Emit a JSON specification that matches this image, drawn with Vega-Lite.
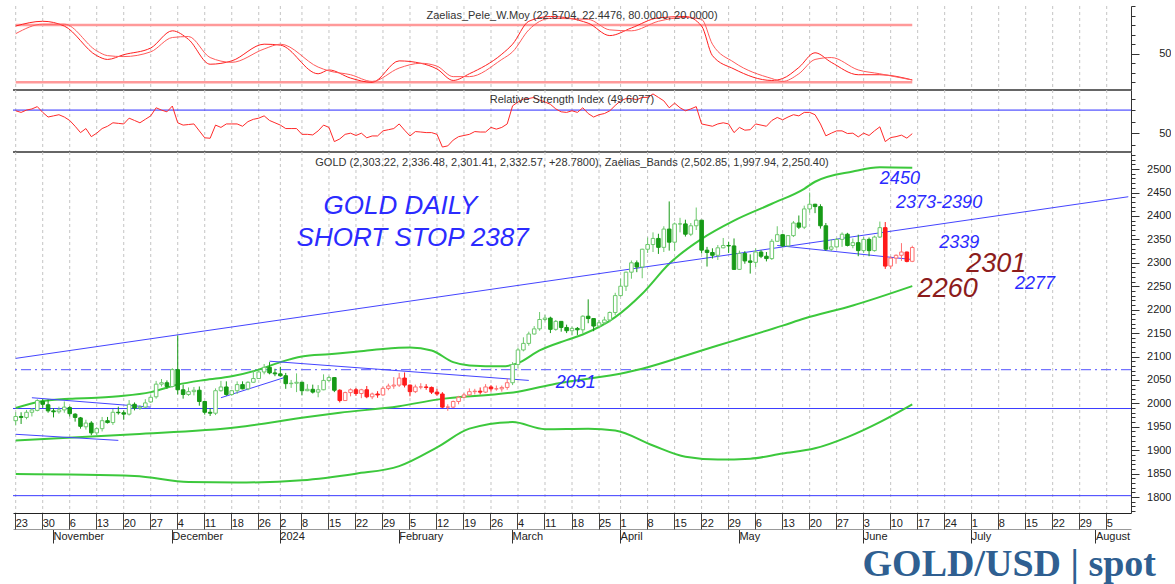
{
"$schema": "https://vega.github.io/schema/vega-lite/v6.json",
"padding": {"left": 10, "top": 5, "right": 0, "bottom": 0},
"background": "white",
"config": {"view": {"stroke": null}, "font": "Liberation Sans"},
"title": {"text": "GOLD/USD | spot", "orient": "bottom", "anchor": "end", "font": "Liberation Serif", "fontSize": 38, "fontWeight": "bold", "color": "#2f5f91", "offset": 2, "dx": -15},
"spacing": 0,
"bounds": "flush",
"datasets": {
"weeks": [{"d":"2023-10-23"},{"d":"2023-10-30"},{"d":"2023-11-06"},{"d":"2023-11-13"},{"d":"2023-11-20"},{"d":"2023-11-27"},{"d":"2023-12-04"},{"d":"2023-12-11"},{"d":"2023-12-18"},{"d":"2023-12-26"},{"d":"2024-01-02"},{"d":"2024-01-08"},{"d":"2024-01-15"},{"d":"2024-01-22"},{"d":"2024-01-29"},{"d":"2024-02-05"},{"d":"2024-02-12"},{"d":"2024-02-19"},{"d":"2024-02-26"},{"d":"2024-03-04"},{"d":"2024-03-11"},{"d":"2024-03-18"},{"d":"2024-03-25"},{"d":"2024-04-01"},{"d":"2024-04-08"},{"d":"2024-04-15"},{"d":"2024-04-22"},{"d":"2024-04-29"},{"d":"2024-05-06"},{"d":"2024-05-13"},{"d":"2024-05-20"},{"d":"2024-05-27"},{"d":"2024-06-03"},{"d":"2024-06-10"},{"d":"2024-06-17"},{"d":"2024-06-24"},{"d":"2024-07-01"},{"d":"2024-07-08"},{"d":"2024-07-15"},{"d":"2024-07-22"},{"d":"2024-07-29"},{"d":"2024-08-05"}]
},
"vconcat": [
{
"width": 1118, "height": 84,
"resolve": {"axis": {"y": "independent"}},
"layer": [
{"data": {"name": "weeks"},
 "mark": {"type": "rule", "color": "#c4c4c4", "strokeDash": [3, 3], "strokeWidth": 1},
 "encoding": {"x": {"field": "d", "type": "ordinal", "axis": null, "scale": {"type": "band", "paddingInner": 0, "paddingOuter": 0, "domain": ["2023-10-23","2023-10-24","2023-10-25","2023-10-26","2023-10-27","2023-10-30","2023-10-31","2023-11-01","2023-11-02","2023-11-03","2023-11-06","2023-11-07","2023-11-08","2023-11-09","2023-11-10","2023-11-13","2023-11-14","2023-11-15","2023-11-16","2023-11-17","2023-11-20","2023-11-21","2023-11-22","2023-11-23","2023-11-24","2023-11-27","2023-11-28","2023-11-29","2023-11-30","2023-12-01","2023-12-04","2023-12-05","2023-12-06","2023-12-07","2023-12-08","2023-12-11","2023-12-12","2023-12-13","2023-12-14","2023-12-15","2023-12-18","2023-12-19","2023-12-20","2023-12-21","2023-12-22","2023-12-26","2023-12-27","2023-12-28","2023-12-29","2024-01-02","2024-01-03","2024-01-04","2024-01-05","2024-01-08","2024-01-09","2024-01-10","2024-01-11","2024-01-12","2024-01-15","2024-01-16","2024-01-17","2024-01-18","2024-01-19","2024-01-22","2024-01-23","2024-01-24","2024-01-25","2024-01-26","2024-01-29","2024-01-30","2024-01-31","2024-02-01","2024-02-02","2024-02-05","2024-02-06","2024-02-07","2024-02-08","2024-02-09","2024-02-12","2024-02-13","2024-02-14","2024-02-15","2024-02-16","2024-02-19","2024-02-20","2024-02-21","2024-02-22","2024-02-23","2024-02-26","2024-02-27","2024-02-28","2024-02-29","2024-03-01","2024-03-04","2024-03-05","2024-03-06","2024-03-07","2024-03-08","2024-03-11","2024-03-12","2024-03-13","2024-03-14","2024-03-15","2024-03-18","2024-03-19","2024-03-20","2024-03-21","2024-03-22","2024-03-25","2024-03-26","2024-03-27","2024-03-28","2024-04-01","2024-04-02","2024-04-03","2024-04-04","2024-04-05","2024-04-08","2024-04-09","2024-04-10","2024-04-11","2024-04-12","2024-04-15","2024-04-16","2024-04-17","2024-04-18","2024-04-19","2024-04-22","2024-04-23","2024-04-24","2024-04-25","2024-04-26","2024-04-29","2024-04-30","2024-05-01","2024-05-02","2024-05-03","2024-05-06","2024-05-07","2024-05-08","2024-05-09","2024-05-10","2024-05-13","2024-05-14","2024-05-15","2024-05-16","2024-05-17","2024-05-20","2024-05-21","2024-05-22","2024-05-23","2024-05-24","2024-05-27","2024-05-28","2024-05-29","2024-05-30","2024-05-31","2024-06-03","2024-06-04","2024-06-05","2024-06-06","2024-06-07","2024-06-10","2024-06-11","2024-06-12","2024-06-13","2024-06-14","2024-06-17","2024-06-18","2024-06-19","2024-06-20","2024-06-21","2024-06-24","2024-06-25","2024-06-26","2024-06-27","2024-06-28","2024-07-01","2024-07-02","2024-07-03","2024-07-04","2024-07-05","2024-07-08","2024-07-09","2024-07-10","2024-07-11","2024-07-12","2024-07-15","2024-07-16","2024-07-17","2024-07-18","2024-07-19","2024-07-22","2024-07-23","2024-07-24","2024-07-25","2024-07-26","2024-07-29","2024-07-30","2024-07-31","2024-08-01","2024-08-02","2024-08-05","2024-08-06","2024-08-07","2024-08-08","2024-08-09"]}}}},
{"data": {"values": [{"v": 12}]},
 "mark": {"type": "rule", "color": "#333333", "strokeWidth": 1.5},
 "encoding": {"y": {"field": "v", "type": "quantitative", "axis": null}}},
{"data": {"values": [{"d":"2023-10-23","v":80,"g":"hi"},{"d":"2024-06-14","v":80,"g":"hi"},{"d":"2023-10-23","v":20,"g":"lo"},{"d":"2024-06-14","v":20,"g":"lo"}]},
 "mark": {"type": "line", "color": "#ff9a9a", "strokeWidth": 2.5},
 "encoding": {"x": {"field": "d", "type": "ordinal", "axis": null},
  "y": {"field": "v", "type": "quantitative", "scale": {"domain": [12, 100], "nice": false, "zero": false},
   "axis": {"orient": "right", "values": [50], "tickSize": 8, "tickColor": "#333", "domainColor": "#333", "labelFontSize": 11, "labelColor": "#222", "labelAlign": "right", "labelPadding": 32, "title": null, "grid": false}},
  "detail": {"field": "g"}}},
{"data": {"values": [
{"d":"2023-10-23","a":79,"b":71},{"d":"2023-10-30","a":84,"b":81},{"d":"2023-11-03","a":79,"b":81},{"d":"2023-11-13","a":48,"b":53},{"d":"2023-11-15","a":44,"b":48},{"d":"2023-11-20","a":49,"b":47},{"d":"2023-11-27","a":56,"b":52},{"d":"2023-12-01","a":74,"b":67},{"d":"2023-12-06","a":65,"b":68},{"d":"2023-12-12","a":39,"b":46},{"d":"2023-12-18","a":42.5,"b":41},{"d":"2023-12-27","a":60,"b":55},{"d":"2024-01-02","a":59,"b":60},{"d":"2024-01-11","a":29,"b":36},{"d":"2024-01-15","a":33,"b":32},{"d":"2024-01-19","a":24.5,"b":28},{"d":"2024-01-25","a":20,"b":21},{"d":"2024-02-01","a":42.5,"b":35},{"d":"2024-02-07","a":40,"b":40},{"d":"2024-02-12","a":34,"b":37},{"d":"2024-02-15","a":22,"b":26},{"d":"2024-02-20","a":29,"b":26},{"d":"2024-02-28","a":49.5,"b":44},{"d":"2024-03-01","a":60,"b":52},{"d":"2024-03-06","a":84,"b":75},{"d":"2024-03-12","a":89,"b":87},{"d":"2024-03-21","a":82,"b":86},{"d":"2024-03-27","a":69,"b":75},{"d":"2024-04-03","a":77,"b":74},{"d":"2024-04-10","a":87.6,"b":84},{"d":"2024-04-17","a":89,"b":88},{"d":"2024-04-22","a":79,"b":86},{"d":"2024-04-24","a":48,"b":60},{"d":"2024-04-30","a":34,"b":41},{"d":"2024-05-09","a":22,"b":24},{"d":"2024-05-13","a":24,"b":21},{"d":"2024-05-16","a":35.6,"b":29},{"d":"2024-05-21","a":51,"b":44},{"d":"2024-05-24","a":41,"b":46},{"d":"2024-05-31","a":28,"b":33},{"d":"2024-06-06","a":28,"b":29},{"d":"2024-06-14","a":22.57,"b":22.45}]},
 "layer": [
  {"mark": {"type": "line", "color": "#ff2020", "strokeWidth": 1, "interpolate": "monotone"},
   "encoding": {"x": {"field": "d", "type": "ordinal", "axis": null}, "y": {"field": "a", "type": "quantitative", "axis": null}}},
  {"mark": {"type": "line", "color": "#ff5a5a", "strokeWidth": 1, "interpolate": "monotone"},
   "encoding": {"x": {"field": "d", "type": "ordinal", "axis": null}, "y": {"field": "b", "type": "quantitative", "axis": null}}}
 ]},
{"data": {"values": [{"d":"2024-03-18","v":89.5,"t":"Zaelias_Pele_W.Moy (22.5704, 22.4476, 80.0000, 20.0000)"}]},
 "mark": {"type": "text", "fontSize": 11, "color": "#333", "font": "Liberation Sans"},
 "encoding": {"x": {"field": "d", "type": "ordinal", "axis": null},
  "y": {"field": "v", "type": "quantitative",
   "axis": {"orient": "right", "values": [20,30,40,60,70,80,90,100], "tickSize": 4, "tickColor": "#333", "labels": false, "domain": false, "title": null, "grid": false}}, "text": {"field": "t"}}}
]
},
{
"width": 1118, "height": 62,
"resolve": {"axis": {"y": "independent"}},
"layer": [
{"data": {"name": "weeks"},
 "mark": {"type": "rule", "color": "#c4c4c4", "strokeDash": [3, 3], "strokeWidth": 1},
 "encoding": {"x": {"field": "d", "type": "ordinal", "axis": null, "scale": {"type": "band", "paddingInner": 0, "paddingOuter": 0, "domain": ["2023-10-23","2023-10-24","2023-10-25","2023-10-26","2023-10-27","2023-10-30","2023-10-31","2023-11-01","2023-11-02","2023-11-03","2023-11-06","2023-11-07","2023-11-08","2023-11-09","2023-11-10","2023-11-13","2023-11-14","2023-11-15","2023-11-16","2023-11-17","2023-11-20","2023-11-21","2023-11-22","2023-11-23","2023-11-24","2023-11-27","2023-11-28","2023-11-29","2023-11-30","2023-12-01","2023-12-04","2023-12-05","2023-12-06","2023-12-07","2023-12-08","2023-12-11","2023-12-12","2023-12-13","2023-12-14","2023-12-15","2023-12-18","2023-12-19","2023-12-20","2023-12-21","2023-12-22","2023-12-26","2023-12-27","2023-12-28","2023-12-29","2024-01-02","2024-01-03","2024-01-04","2024-01-05","2024-01-08","2024-01-09","2024-01-10","2024-01-11","2024-01-12","2024-01-15","2024-01-16","2024-01-17","2024-01-18","2024-01-19","2024-01-22","2024-01-23","2024-01-24","2024-01-25","2024-01-26","2024-01-29","2024-01-30","2024-01-31","2024-02-01","2024-02-02","2024-02-05","2024-02-06","2024-02-07","2024-02-08","2024-02-09","2024-02-12","2024-02-13","2024-02-14","2024-02-15","2024-02-16","2024-02-19","2024-02-20","2024-02-21","2024-02-22","2024-02-23","2024-02-26","2024-02-27","2024-02-28","2024-02-29","2024-03-01","2024-03-04","2024-03-05","2024-03-06","2024-03-07","2024-03-08","2024-03-11","2024-03-12","2024-03-13","2024-03-14","2024-03-15","2024-03-18","2024-03-19","2024-03-20","2024-03-21","2024-03-22","2024-03-25","2024-03-26","2024-03-27","2024-03-28","2024-04-01","2024-04-02","2024-04-03","2024-04-04","2024-04-05","2024-04-08","2024-04-09","2024-04-10","2024-04-11","2024-04-12","2024-04-15","2024-04-16","2024-04-17","2024-04-18","2024-04-19","2024-04-22","2024-04-23","2024-04-24","2024-04-25","2024-04-26","2024-04-29","2024-04-30","2024-05-01","2024-05-02","2024-05-03","2024-05-06","2024-05-07","2024-05-08","2024-05-09","2024-05-10","2024-05-13","2024-05-14","2024-05-15","2024-05-16","2024-05-17","2024-05-20","2024-05-21","2024-05-22","2024-05-23","2024-05-24","2024-05-27","2024-05-28","2024-05-29","2024-05-30","2024-05-31","2024-06-03","2024-06-04","2024-06-05","2024-06-06","2024-06-07","2024-06-10","2024-06-11","2024-06-12","2024-06-13","2024-06-14","2024-06-17","2024-06-18","2024-06-19","2024-06-20","2024-06-21","2024-06-24","2024-06-25","2024-06-26","2024-06-27","2024-06-28","2024-07-01","2024-07-02","2024-07-03","2024-07-04","2024-07-05","2024-07-08","2024-07-09","2024-07-10","2024-07-11","2024-07-12","2024-07-15","2024-07-16","2024-07-17","2024-07-18","2024-07-19","2024-07-22","2024-07-23","2024-07-24","2024-07-25","2024-07-26","2024-07-29","2024-07-30","2024-07-31","2024-08-01","2024-08-02","2024-08-05","2024-08-06","2024-08-07","2024-08-08","2024-08-09"]}}}},
{"data": {"values": [{"v": 33.7}]},
 "mark": {"type": "rule", "color": "#333333", "strokeWidth": 1.5},
 "encoding": {"y": {"field": "v", "type": "quantitative", "axis": null}}},
{"data": {"values": [{"v": 70}]},
 "mark": {"type": "rule", "color": "#2a2aff", "strokeWidth": 1},
 "encoding": {"y": {"field": "v", "type": "quantitative",
   "axis": {"orient": "right", "values": [40,60,70,80], "tickSize": 4, "tickColor": "#333", "labels": false, "domain": false, "title": null, "grid": false}}}},
{"data": {"values": [
{"d":"2023-10-23","r":69.4},{"d":"2023-10-24","r":68},{"d":"2023-10-25","r":70},{"d":"2023-10-26","r":71},{"d":"2023-10-27","r":73},{"d":"2023-10-30","r":68},{"d":"2023-10-31","r":64},{"d":"2023-11-01","r":65},{"d":"2023-11-02","r":66},{"d":"2023-11-03","r":64},{"d":"2023-11-06","r":61},{"d":"2023-11-07","r":56},{"d":"2023-11-08","r":50.5},{"d":"2023-11-09","r":54},{"d":"2023-11-10","r":47},{"d":"2023-11-13","r":50},{"d":"2023-11-14","r":54},{"d":"2023-11-15","r":56},{"d":"2023-11-16","r":59},{"d":"2023-11-17","r":58.5},{"d":"2023-11-20","r":58},{"d":"2023-11-21","r":63},{"d":"2023-11-22","r":61},{"d":"2023-11-23","r":59},{"d":"2023-11-24","r":62},{"d":"2023-11-27","r":65},{"d":"2023-11-28","r":72},{"d":"2023-11-29","r":70},{"d":"2023-11-30","r":68.5},{"d":"2023-12-01","r":73.5},{"d":"2023-12-04","r":59},{"d":"2023-12-05","r":57},{"d":"2023-12-06","r":57.5},{"d":"2023-12-07","r":58},{"d":"2023-12-08","r":52},{"d":"2023-12-11","r":46},{"d":"2023-12-12","r":45.6},{"d":"2023-12-13","r":57},{"d":"2023-12-14","r":55},{"d":"2023-12-15","r":58},{"d":"2023-12-18","r":58},{"d":"2023-12-19","r":58},{"d":"2023-12-20","r":56},{"d":"2023-12-21","r":60},{"d":"2023-12-22","r":62},{"d":"2023-12-26","r":63},{"d":"2023-12-27","r":65},{"d":"2023-12-28","r":61},{"d":"2023-12-29","r":59},{"d":"2024-01-02","r":57},{"d":"2024-01-03","r":54},{"d":"2024-01-04","r":54},{"d":"2024-01-05","r":54},{"d":"2024-01-08","r":49},{"d":"2024-01-09","r":49},{"d":"2024-01-10","r":48.5},{"d":"2024-01-11","r":52},{"d":"2024-01-12","r":57},{"d":"2024-01-15","r":55},{"d":"2024-01-16","r":42.7},{"d":"2024-01-17","r":45},{"d":"2024-01-18","r":49},{"d":"2024-01-19","r":50},{"d":"2024-01-22","r":48},{"d":"2024-01-23","r":50},{"d":"2024-01-24","r":46},{"d":"2024-01-25","r":47.6},{"d":"2024-01-26","r":47.6},{"d":"2024-01-29","r":52},{"d":"2024-01-30","r":53},{"d":"2024-01-31","r":54},{"d":"2024-02-01","r":58},{"d":"2024-02-02","r":52.6},{"d":"2024-02-05","r":47.6},{"d":"2024-02-06","r":51.4},{"d":"2024-02-07","r":51},{"d":"2024-02-08","r":50.5},{"d":"2024-02-09","r":50.5},{"d":"2024-02-12","r":49},{"d":"2024-02-13","r":38},{"d":"2024-02-14","r":39},{"d":"2024-02-15","r":44},{"d":"2024-02-16","r":47},{"d":"2024-02-19","r":48},{"d":"2024-02-20","r":49},{"d":"2024-02-21","r":51.4},{"d":"2024-02-22","r":51},{"d":"2024-02-23","r":51},{"d":"2024-02-26","r":55},{"d":"2024-02-27","r":53.5},{"d":"2024-02-28","r":55},{"d":"2024-02-29","r":58},{"d":"2024-03-01","r":73.7},{"d":"2024-03-04","r":77},{"d":"2024-03-05","r":79.5},{"d":"2024-03-06","r":80},{"d":"2024-03-07","r":81},{"d":"2024-03-08","r":78.7},{"d":"2024-03-11","r":77},{"d":"2024-03-12","r":75},{"d":"2024-03-13","r":71},{"d":"2024-03-14","r":68.5},{"d":"2024-03-15","r":68},{"d":"2024-03-18","r":69.4},{"d":"2024-03-19","r":68},{"d":"2024-03-20","r":72},{"d":"2024-03-21","r":67},{"d":"2024-03-22","r":64},{"d":"2024-03-25","r":66},{"d":"2024-03-26","r":67},{"d":"2024-03-27","r":69.4},{"d":"2024-03-28","r":74},{"d":"2024-04-01","r":78},{"d":"2024-04-02","r":80},{"d":"2024-04-03","r":80},{"d":"2024-04-04","r":79},{"d":"2024-04-05","r":81},{"d":"2024-04-08","r":81},{"d":"2024-04-09","r":84},{"d":"2024-04-10","r":81},{"d":"2024-04-11","r":78},{"d":"2024-04-12","r":72},{"d":"2024-04-15","r":76},{"d":"2024-04-16","r":72},{"d":"2024-04-17","r":69.4},{"d":"2024-04-18","r":71},{"d":"2024-04-19","r":73},{"d":"2024-04-22","r":58},{"d":"2024-04-23","r":57},{"d":"2024-04-24","r":56},{"d":"2024-04-25","r":58},{"d":"2024-04-26","r":59},{"d":"2024-04-29","r":58},{"d":"2024-04-30","r":50.5},{"d":"2024-05-01","r":55},{"d":"2024-05-02","r":52.6},{"d":"2024-05-03","r":53},{"d":"2024-05-06","r":58},{"d":"2024-05-07","r":57},{"d":"2024-05-08","r":56},{"d":"2024-05-09","r":61},{"d":"2024-05-10","r":63.6},{"d":"2024-05-13","r":61.6},{"d":"2024-05-14","r":64},{"d":"2024-05-15","r":66},{"d":"2024-05-16","r":65},{"d":"2024-05-17","r":68},{"d":"2024-05-20","r":68},{"d":"2024-05-21","r":66},{"d":"2024-05-22","r":58},{"d":"2024-05-23","r":47.7},{"d":"2024-05-24","r":50},{"d":"2024-05-27","r":52},{"d":"2024-05-28","r":52},{"d":"2024-05-29","r":49.7},{"d":"2024-05-30","r":50},{"d":"2024-05-31","r":46.8},{"d":"2024-06-03","r":50},{"d":"2024-06-04","r":48},{"d":"2024-06-05","r":52},{"d":"2024-06-06","r":55.5},{"d":"2024-06-07","r":42.7},{"d":"2024-06-10","r":46.2},{"d":"2024-06-11","r":47},{"d":"2024-06-12","r":48.3},{"d":"2024-06-13","r":45.7},{"d":"2024-06-14","r":49.6}]},
 "mark": {"type": "line", "color": "#ff2a2a", "strokeWidth": 1},
 "encoding": {"x": {"field": "d", "type": "ordinal", "axis": null},
  "y": {"field": "r", "type": "quantitative", "scale": {"domain": [33.7, 87.4], "nice": false, "zero": false},
   "axis": {"orient": "right", "values": [50], "tickSize": 8, "tickColor": "#333", "domainColor": "#333", "labelFontSize": 11, "labelColor": "#222", "labelAlign": "right", "labelPadding": 32, "title": null, "grid": false}}}},
{"data": {"values": [{"d":"2024-03-18","v":79,"t":"Relative Strength Index (49.6077)"}]},
 "mark": {"type": "text", "fontSize": 11, "color": "#333", "font": "Liberation Sans"},
 "encoding": {"x": {"field": "d", "type": "ordinal", "axis": null},
  "y": {"field": "v", "type": "quantitative", "axis": null}, "text": {"field": "t"}}}
]
},
{
"width": 1118, "height": 361,
"resolve": {"axis": {"x": "independent", "y": "independent"}},
"layer": [
{"data": {"name": "weeks"},
 "mark": {"type": "rule", "color": "#c4c4c4", "strokeDash": [3, 3], "strokeWidth": 1},
 "encoding": {"x": {"field": "d", "type": "ordinal", "axis": null, "scale": {"type": "band", "paddingInner": 0, "paddingOuter": 0, "domain": ["2023-10-23","2023-10-24","2023-10-25","2023-10-26","2023-10-27","2023-10-30","2023-10-31","2023-11-01","2023-11-02","2023-11-03","2023-11-06","2023-11-07","2023-11-08","2023-11-09","2023-11-10","2023-11-13","2023-11-14","2023-11-15","2023-11-16","2023-11-17","2023-11-20","2023-11-21","2023-11-22","2023-11-23","2023-11-24","2023-11-27","2023-11-28","2023-11-29","2023-11-30","2023-12-01","2023-12-04","2023-12-05","2023-12-06","2023-12-07","2023-12-08","2023-12-11","2023-12-12","2023-12-13","2023-12-14","2023-12-15","2023-12-18","2023-12-19","2023-12-20","2023-12-21","2023-12-22","2023-12-26","2023-12-27","2023-12-28","2023-12-29","2024-01-02","2024-01-03","2024-01-04","2024-01-05","2024-01-08","2024-01-09","2024-01-10","2024-01-11","2024-01-12","2024-01-15","2024-01-16","2024-01-17","2024-01-18","2024-01-19","2024-01-22","2024-01-23","2024-01-24","2024-01-25","2024-01-26","2024-01-29","2024-01-30","2024-01-31","2024-02-01","2024-02-02","2024-02-05","2024-02-06","2024-02-07","2024-02-08","2024-02-09","2024-02-12","2024-02-13","2024-02-14","2024-02-15","2024-02-16","2024-02-19","2024-02-20","2024-02-21","2024-02-22","2024-02-23","2024-02-26","2024-02-27","2024-02-28","2024-02-29","2024-03-01","2024-03-04","2024-03-05","2024-03-06","2024-03-07","2024-03-08","2024-03-11","2024-03-12","2024-03-13","2024-03-14","2024-03-15","2024-03-18","2024-03-19","2024-03-20","2024-03-21","2024-03-22","2024-03-25","2024-03-26","2024-03-27","2024-03-28","2024-04-01","2024-04-02","2024-04-03","2024-04-04","2024-04-05","2024-04-08","2024-04-09","2024-04-10","2024-04-11","2024-04-12","2024-04-15","2024-04-16","2024-04-17","2024-04-18","2024-04-19","2024-04-22","2024-04-23","2024-04-24","2024-04-25","2024-04-26","2024-04-29","2024-04-30","2024-05-01","2024-05-02","2024-05-03","2024-05-06","2024-05-07","2024-05-08","2024-05-09","2024-05-10","2024-05-13","2024-05-14","2024-05-15","2024-05-16","2024-05-17","2024-05-20","2024-05-21","2024-05-22","2024-05-23","2024-05-24","2024-05-27","2024-05-28","2024-05-29","2024-05-30","2024-05-31","2024-06-03","2024-06-04","2024-06-05","2024-06-06","2024-06-07","2024-06-10","2024-06-11","2024-06-12","2024-06-13","2024-06-14","2024-06-17","2024-06-18","2024-06-19","2024-06-20","2024-06-21","2024-06-24","2024-06-25","2024-06-26","2024-06-27","2024-06-28","2024-07-01","2024-07-02","2024-07-03","2024-07-04","2024-07-05","2024-07-08","2024-07-09","2024-07-10","2024-07-11","2024-07-12","2024-07-15","2024-07-16","2024-07-17","2024-07-18","2024-07-19","2024-07-22","2024-07-23","2024-07-24","2024-07-25","2024-07-26","2024-07-29","2024-07-30","2024-07-31","2024-08-01","2024-08-02","2024-08-05","2024-08-06","2024-08-07","2024-08-08","2024-08-09"]}}}},
{"data": {"values": [{"p": 1989}, {"p": 1803}]},
 "mark": {"type": "rule", "stroke": "#3a3aff", "strokeWidth": 1},
 "encoding": {"y": {"field": "p", "type": "quantitative", "scale": {"domain": [1766, 2536.5], "nice": false, "zero": false},
   "axis": {"orient": "right", "values": [1800,1850,1900,1950,2000,2050,2100,2150,2200,2250,2300,2350,2400,2450,2500], "format": "d", "tickSize": 8, "tickColor": "#333", "domainColor": "#333", "labelFontSize": 11, "labelColor": "#222", "labelAlign": "right", "labelPadding": 32, "labelOverlap": false, "title": null, "grid": false}}}},
{"data": {"values": [{"p": 2072}]},
 "mark": {"type": "rule", "stroke": "#7373ff", "strokeWidth": 1.2, "strokeDash": [10, 4, 2, 4]},
 "encoding": {"y": {"field": "p", "type": "quantitative",
   "axis": {"orient": "right", "values": [1770,1780,1790,1810,1820,1830,1840,1860,1870,1880,1890,1910,1920,1930,1940,1960,1970,1980,1990,2010,2020,2030,2040,2060,2070,2080,2090,2110,2120,2130,2140,2160,2170,2180,2190,2210,2220,2230,2240,2260,2270,2280,2290,2310,2320,2330,2340,2360,2370,2380,2390,2410,2420,2430,2440,2460,2470,2480,2490,2510,2520,2530], "tickSize": 4, "tickColor": "#333", "labels": false, "domain": false, "title": null, "grid": false}}}},
{"data": {"values": [
{"d":"2023-10-23","p":1990,"b":"upper"},{"d":"2023-10-30","p":2005,"b":"upper"},{"d":"2023-11-06","p":2010,"b":"upper"},{"d":"2023-11-13","p":2012,"b":"upper"},{"d":"2023-11-20","p":2016,"b":"upper"},{"d":"2023-11-27","p":2024,"b":"upper"},{"d":"2023-12-04","p":2040,"b":"upper"},{"d":"2023-12-11","p":2050,"b":"upper"},{"d":"2023-12-18","p":2058,"b":"upper"},{"d":"2023-12-26","p":2072,"b":"upper"},{"d":"2024-01-02","p":2088,"b":"upper"},{"d":"2024-01-08","p":2100,"b":"upper"},{"d":"2024-01-15","p":2105,"b":"upper"},{"d":"2024-01-22","p":2110,"b":"upper"},{"d":"2024-01-29","p":2116,"b":"upper"},{"d":"2024-02-05","p":2119,"b":"upper"},{"d":"2024-02-09","p":2113,"b":"upper"},{"d":"2024-02-15","p":2088,"b":"upper"},{"d":"2024-02-20","p":2081,"b":"upper"},{"d":"2024-02-28","p":2079,"b":"upper"},{"d":"2024-03-04","p":2086,"b":"upper"},{"d":"2024-03-08","p":2113,"b":"upper"},{"d":"2024-03-15","p":2135,"b":"upper"},{"d":"2024-03-20","p":2147,"b":"upper"},{"d":"2024-03-28","p":2184,"b":"upper"},{"d":"2024-04-05","p":2234,"b":"upper"},{"d":"2024-04-12","p":2298,"b":"upper"},{"d":"2024-04-22","p":2351,"b":"upper"},{"d":"2024-04-30","p":2390,"b":"upper"},{"d":"2024-05-09","p":2426,"b":"upper"},{"d":"2024-05-17","p":2458,"b":"upper"},{"d":"2024-05-21","p":2473,"b":"upper"},{"d":"2024-05-30","p":2495,"b":"upper"},{"d":"2024-06-06","p":2504,"b":"upper"},{"d":"2024-06-14","p":2502.85,"b":"upper"},
{"d":"2023-10-23","p":1921,"b":"middle"},{"d":"2023-11-22","p":1934,"b":"middle"},{"d":"2023-12-19","p":1949,"b":"middle"},{"d":"2024-01-09","p":1971,"b":"middle"},{"d":"2024-01-17","p":1980,"b":"middle"},{"d":"2024-02-01","p":1994,"b":"middle"},{"d":"2024-02-12","p":2008,"b":"middle"},{"d":"2024-03-04","p":2025,"b":"middle"},{"d":"2024-03-13","p":2042,"b":"middle"},{"d":"2024-04-02","p":2066,"b":"middle"},{"d":"2024-04-05","p":2074,"b":"middle"},{"d":"2024-04-22","p":2113,"b":"middle"},{"d":"2024-04-30","p":2134,"b":"middle"},{"d":"2024-05-13","p":2166,"b":"middle"},{"d":"2024-05-17","p":2181,"b":"middle"},{"d":"2024-05-30","p":2209,"b":"middle"},{"d":"2024-06-14","p":2250.4,"b":"middle"},
{"d":"2023-10-23","p":1849,"b":"lower"},{"d":"2023-11-22","p":1845,"b":"lower"},{"d":"2023-12-06","p":1832,"b":"lower"},{"d":"2023-12-19","p":1831,"b":"lower"},{"d":"2024-01-08","p":1836,"b":"lower"},{"d":"2024-01-22","p":1850,"b":"lower"},{"d":"2024-02-01","p":1866,"b":"lower"},{"d":"2024-02-12","p":1906,"b":"lower"},{"d":"2024-02-20","p":1946,"b":"lower"},{"d":"2024-03-01","p":1960,"b":"lower"},{"d":"2024-03-11","p":1945,"b":"lower"},{"d":"2024-03-21","p":1946,"b":"lower"},{"d":"2024-03-28","p":1942,"b":"lower"},{"d":"2024-04-09","p":1910,"b":"lower"},{"d":"2024-04-17","p":1886,"b":"lower"},{"d":"2024-04-25","p":1880,"b":"lower"},{"d":"2024-05-03","p":1882,"b":"lower"},{"d":"2024-05-13","p":1893,"b":"lower"},{"d":"2024-05-21","p":1904,"b":"lower"},{"d":"2024-05-29","p":1928,"b":"lower"},{"d":"2024-06-06","p":1960,"b":"lower"},{"d":"2024-06-14","p":1997.94,"b":"lower"}]},
 "mark": {"type": "line", "color": "#3cc83c", "strokeWidth": 2, "interpolate": "monotone"},
 "encoding": {"x": {"field": "d", "type": "ordinal",
   "axis": {"orient": "bottom", "values": ["2023-11-01","2023-12-01","2024-01-02","2024-02-01","2024-03-01","2024-04-01","2024-05-01","2024-06-03","2024-07-01","2024-08-01"], "labelExpr": "datum.value == '2024-01-02' ? '2024' : utcFormat(toDate(datum.value), '%B')", "offset": 16, "tickSize": 14, "tickColor": "#333", "domainColor": "#999", "labelAngle": 0, "labelAlign": "left", "labelDx": 2, "labelBaseline": "middle", "labelPadding": -7, "labelFontSize": 11, "labelColor": "#222", "labelFont": "Liberation Sans", "labelOverlap": false, "labelFlush": false, "grid": false, "title": null}},
  "y": {"field": "p", "type": "quantitative", "axis": null}, "detail": {"field": "b"}}},
{"data": {"values": [
{"d":"2023-10-23","p":2096,"ln":"long"},{"d":"2024-08-09","p":2441,"ln":"long"},
{"d":"2024-05-10","p":2337,"ln":"short"},{"d":"2024-06-14","p":2307,"ln":"short"},
{"d":"2023-10-26","p":2012,"ln":"novhi"},{"d":"2023-11-27","p":1992,"ln":"novhi"},
{"d":"2023-10-23","p":1934,"ln":"novlo"},{"d":"2023-11-17","p":1921,"ln":"novlo"},
{"d":"2023-12-14","p":2012,"ln":"dec"},{"d":"2024-01-03","p":2056,"ln":"dec"},
{"d":"2023-12-28","p":2090,"ln":"janfeb"},{"d":"2024-03-06","p":2049,"ln":"janfeb"}]},
 "mark": {"type": "line", "color": "#4444ff", "strokeWidth": 1},
 "encoding": {"x": {"field": "d", "type": "ordinal",
   "axis": {"orient": "bottom", "values": ["2023-10-23","2023-10-30","2023-11-06","2023-11-13","2023-11-20","2023-11-27","2023-12-04","2023-12-11","2023-12-18","2023-12-26","2024-01-02","2024-01-08","2024-01-15","2024-01-22","2024-01-29","2024-02-05","2024-02-12","2024-02-19","2024-02-26","2024-03-04","2024-03-11","2024-03-18","2024-03-25","2024-04-01","2024-04-08","2024-04-15","2024-04-22","2024-04-29","2024-05-06","2024-05-13","2024-05-20","2024-05-27","2024-06-03","2024-06-10","2024-06-17","2024-06-24","2024-07-01","2024-07-08","2024-07-15","2024-07-22","2024-07-29","2024-08-05"], "labelExpr": "substring(datum.value, 8, 9) == '0' ? substring(datum.value, 9, 10) : substring(datum.value, 8, 10)", "tickSize": 16, "tickColor": "#444", "domainColor": "#222", "labelAngle": 0, "labelAlign": "left", "labelDx": 2, "labelBaseline": "middle", "labelPadding": -6, "labelFontSize": 11, "labelColor": "#222", "labelFont": "Liberation Sans", "labelOverlap": false, "labelFlush": false, "grid": false, "title": null}},
  "y": {"field": "p", "type": "quantitative", "axis": null}, "detail": {"field": "ln"}}},
{"data": {"values": [
{"d":"2023-10-23","o":1963,"h":1981,"l":1953,"c":1972,"s":"g"},{"d":"2023-10-24","o":1972,"h":1981,"l":1956,"c":1970,"s":"g"},{"d":"2023-10-25","o":1970,"h":1986,"l":1966,"c":1981,"s":"g"},{"d":"2023-10-26","o":1981,"h":1990,"l":1972,"c":1986,"s":"g"},{"d":"2023-10-27","o":1985,"h":2009,"l":1983,"c":2006,"s":"g"},
{"d":"2023-10-30","o":2004,"h":2009,"l":1990,"c":1998,"s":"g"},{"d":"2023-10-31","o":1997,"h":2008,"l":1980,"c":1984,"s":"g"},{"d":"2023-11-01","o":1984,"h":1990,"l":1970,"c":1982,"s":"g"},{"d":"2023-11-02","o":1982,"h":1993,"l":1978,"c":1986,"s":"g"},{"d":"2023-11-03","o":1986,"h":2004,"l":1980,"c":1992,"s":"g"},
{"d":"2023-11-06","o":1991,"h":1994,"l":1972,"c":1978,"s":"g"},{"d":"2023-11-07","o":1977,"h":1979,"l":1961,"c":1970,"s":"g"},{"d":"2023-11-08","o":1969,"h":1971,"l":1946,"c":1951,"s":"g"},{"d":"2023-11-09","o":1950,"h":1965,"l":1944,"c":1958,"s":"g"},{"d":"2023-11-10","o":1958,"h":1962,"l":1932,"c":1937,"s":"g"},
{"d":"2023-11-13","o":1937,"h":1949,"l":1931,"c":1946,"s":"g"},{"d":"2023-11-14","o":1946,"h":1971,"l":1940,"c":1963,"s":"g"},{"d":"2023-11-15","o":1963,"h":1971,"l":1957,"c":1959,"s":"g"},{"d":"2023-11-16","o":1959,"h":1988,"l":1954,"c":1981,"s":"g"},{"d":"2023-11-17","o":1981,"h":1993,"l":1976,"c":1980,"s":"g"},
{"d":"2023-11-20","o":1980,"h":1985,"l":1965,"c":1977,"s":"g"},{"d":"2023-11-21","o":1977,"h":2007,"l":1974,"c":1998,"s":"g"},{"d":"2023-11-22","o":1998,"h":2002,"l":1985,"c":1990,"s":"g"},{"d":"2023-11-23","o":1990,"h":1996,"l":1986,"c":1992,"s":"g"},{"d":"2023-11-24","o":1992,"h":2009,"l":1990,"c":2001,"s":"g"},
{"d":"2023-11-27","o":2003,"h":2018,"l":2001,"c":2013,"s":"g"},{"d":"2023-11-28","o":2014,"h":2048,"l":2010,"c":2041,"s":"g"},{"d":"2023-11-29","o":2041,"h":2052,"l":2036,"c":2044,"s":"g"},{"d":"2023-11-30","o":2044,"h":2049,"l":2031,"c":2036,"s":"g"},{"d":"2023-12-01","o":2036,"h":2075,"l":2034,"c":2072,"s":"g"},
{"d":"2023-12-04","o":2072,"h":2145,"l":2019,"c":2029,"s":"g"},{"d":"2023-12-05","o":2029,"h":2040,"l":2010,"c":2019,"s":"g"},{"d":"2023-12-06","o":2019,"h":2034,"l":2016,"c":2025,"s":"g"},{"d":"2023-12-07","o":2025,"h":2035,"l":2017,"c":2028,"s":"g"},{"d":"2023-12-08","o":2028,"h":2036,"l":1995,"c":2004,"s":"g"},
{"d":"2023-12-11","o":2004,"h":2005,"l":1976,"c":1981,"s":"g"},{"d":"2023-12-12","o":1981,"h":1990,"l":1973,"c":1979,"s":"g"},{"d":"2023-12-13","o":1979,"h":2032,"l":1975,"c":2027,"s":"g"},{"d":"2023-12-14","o":2027,"h":2048,"l":2025,"c":2035,"s":"g"},{"d":"2023-12-15","o":2035,"h":2047,"l":2016,"c":2019,"s":"g"},
{"d":"2023-12-18","o":2019,"h":2029,"l":2016,"c":2027,"s":"g"},{"d":"2023-12-19","o":2027,"h":2047,"l":2020,"c":2040,"s":"g"},{"d":"2023-12-20","o":2040,"h":2047,"l":2030,"c":2031,"s":"g"},{"d":"2023-12-21","o":2031,"h":2047,"l":2028,"c":2045,"s":"g"},{"d":"2023-12-22","o":2045,"h":2071,"l":2044,"c":2053,"s":"g"},
{"d":"2023-12-26","o":2053,"h":2070,"l":2052,"c":2067,"s":"g"},{"d":"2023-12-27","o":2067,"h":2084,"l":2062,"c":2077,"s":"g"},{"d":"2023-12-28","o":2077,"h":2088,"l":2062,"c":2065,"s":"g"},{"d":"2023-12-29","o":2065,"h":2074,"l":2058,"c":2063,"s":"g"},
{"d":"2024-01-02","o":2063,"h":2078,"l":2057,"c":2059,"s":"g"},{"d":"2024-01-03","o":2059,"h":2065,"l":2031,"c":2042,"s":"g"},{"d":"2024-01-04","o":2042,"h":2050,"l":2033,"c":2043,"s":"g"},{"d":"2024-01-05","o":2043,"h":2064,"l":2024,"c":2045,"s":"g"},
{"d":"2024-01-08","o":2045,"h":2046,"l":2017,"c":2027,"s":"g"},{"d":"2024-01-09","o":2027,"h":2041,"l":2026,"c":2030,"s":"g"},{"d":"2024-01-10","o":2030,"h":2040,"l":2021,"c":2024,"s":"g"},{"d":"2024-01-11","o":2024,"h":2039,"l":2013,"c":2029,"s":"g"},{"d":"2024-01-12","o":2029,"h":2062,"l":2028,"c":2049,"s":"g"},
{"d":"2024-01-15","o":2049,"h":2059,"l":2046,"c":2055,"s":"g"},{"d":"2024-01-16","o":2055,"h":2056,"l":2024,"c":2028,"s":"g"},{"d":"2024-01-17","o":2028,"h":2030,"l":2002,"c":2006,"s":"r"},{"d":"2024-01-18","o":2006,"h":2025,"l":2005,"c":2023,"s":"r"},{"d":"2024-01-19","o":2023,"h":2032,"l":2015,"c":2029,"s":"r"},
{"d":"2024-01-22","o":2029,"h":2033,"l":2016,"c":2021,"s":"r"},{"d":"2024-01-23","o":2021,"h":2031,"l":2011,"c":2029,"s":"r"},{"d":"2024-01-24","o":2029,"h":2037,"l":2011,"c":2014,"s":"r"},{"d":"2024-01-25","o":2014,"h":2023,"l":2009,"c":2020,"s":"r"},{"d":"2024-01-26","o":2020,"h":2026,"l":2012,"c":2018,"s":"r"},
{"d":"2024-01-29","o":2018,"h":2036,"l":2016,"c":2032,"s":"r"},{"d":"2024-01-30","o":2032,"h":2042,"l":2028,"c":2037,"s":"r"},{"d":"2024-01-31","o":2037,"h":2056,"l":2031,"c":2039,"s":"r"},{"d":"2024-02-01","o":2039,"h":2065,"l":2035,"c":2054,"s":"r"},{"d":"2024-02-02","o":2054,"h":2066,"l":2034,"c":2039,"s":"r"},
{"d":"2024-02-05","o":2039,"h":2040,"l":2015,"c":2025,"s":"r"},{"d":"2024-02-06","o":2025,"h":2040,"l":2022,"c":2035,"s":"r"},{"d":"2024-02-07","o":2035,"h":2043,"l":2030,"c":2035,"s":"r"},{"d":"2024-02-08","o":2035,"h":2041,"l":2029,"c":2034,"s":"r"},{"d":"2024-02-09","o":2034,"h":2036,"l":2020,"c":2024,"s":"r"},
{"d":"2024-02-12","o":2024,"h":2031,"l":2016,"c":2020,"s":"r"},{"d":"2024-02-13","o":2020,"h":2024,"l":1990,"c":1992,"s":"r"},{"d":"2024-02-14","o":1992,"h":1998,"l":1984,"c":1992,"s":"r"},{"d":"2024-02-15","o":1992,"h":2006,"l":1990,"c":2004,"s":"r"},{"d":"2024-02-16","o":2004,"h":2016,"l":1998,"c":2013,"s":"r"},
{"d":"2024-02-19","o":2013,"h":2022,"l":2011,"c":2018,"s":"r"},{"d":"2024-02-20","o":2018,"h":2032,"l":2016,"c":2025,"s":"r"},{"d":"2024-02-21","o":2025,"h":2031,"l":2019,"c":2026,"s":"r"},{"d":"2024-02-22","o":2026,"h":2034,"l":2019,"c":2024,"s":"r"},{"d":"2024-02-23","o":2024,"h":2041,"l":2022,"c":2035,"s":"r"},
{"d":"2024-02-26","o":2035,"h":2039,"l":2025,"c":2031,"s":"r"},{"d":"2024-02-27","o":2031,"h":2038,"l":2027,"c":2031,"s":"r"},{"d":"2024-02-28","o":2031,"h":2038,"l":2025,"c":2034,"s":"r"},{"d":"2024-02-29","o":2034,"h":2053,"l":2029,"c":2044,"s":"r"},{"d":"2024-03-01","o":2044,"h":2088,"l":2039,"c":2083,"s":"g"},
{"d":"2024-03-04","o":2083,"h":2119,"l":2075,"c":2114,"s":"g"},{"d":"2024-03-05","o":2114,"h":2141,"l":2111,"c":2128,"s":"g"},{"d":"2024-03-06","o":2128,"h":2153,"l":2123,"c":2148,"s":"g"},{"d":"2024-03-07","o":2148,"h":2165,"l":2147,"c":2159,"s":"g"},{"d":"2024-03-08","o":2159,"h":2195,"l":2155,"c":2179,"s":"g"},
{"d":"2024-03-11","o":2179,"h":2189,"l":2175,"c":2182,"s":"g"},{"d":"2024-03-12","o":2182,"h":2185,"l":2150,"c":2158,"s":"g"},{"d":"2024-03-13","o":2158,"h":2178,"l":2155,"c":2175,"s":"g"},{"d":"2024-03-14","o":2175,"h":2175,"l":2153,"c":2162,"s":"g"},{"d":"2024-03-15","o":2162,"h":2168,"l":2150,"c":2155,"s":"g"},
{"d":"2024-03-18","o":2155,"h":2164,"l":2145,"c":2160,"s":"g"},{"d":"2024-03-19","o":2160,"h":2163,"l":2146,"c":2157,"s":"g"},{"d":"2024-03-20","o":2157,"h":2188,"l":2149,"c":2186,"s":"g"},{"d":"2024-03-21","o":2186,"h":2222,"l":2171,"c":2181,"s":"g"},{"d":"2024-03-22","o":2181,"h":2182,"l":2154,"c":2165,"s":"g"},
{"d":"2024-03-25","o":2165,"h":2178,"l":2163,"c":2172,"s":"g"},{"d":"2024-03-26","o":2172,"h":2185,"l":2168,"c":2178,"s":"g"},{"d":"2024-03-27","o":2178,"h":2196,"l":2173,"c":2194,"s":"g"},{"d":"2024-03-28","o":2194,"h":2236,"l":2188,"c":2230,"s":"g"},
{"d":"2024-04-01","o":2230,"h":2266,"l":2228,"c":2250,"s":"g"},{"d":"2024-04-02","o":2250,"h":2281,"l":2240,"c":2280,"s":"g"},{"d":"2024-04-03","o":2280,"h":2305,"l":2266,"c":2300,"s":"g"},{"d":"2024-04-04","o":2300,"h":2305,"l":2280,"c":2291,"s":"g"},{"d":"2024-04-05","o":2291,"h":2330,"l":2267,"c":2329,"s":"g"},
{"d":"2024-04-08","o":2329,"h":2354,"l":2321,"c":2339,"s":"g"},{"d":"2024-04-09","o":2339,"h":2365,"l":2323,"c":2352,"s":"g"},{"d":"2024-04-10","o":2352,"h":2362,"l":2319,"c":2333,"s":"g"},{"d":"2024-04-11","o":2333,"h":2378,"l":2323,"c":2372,"s":"g"},{"d":"2024-04-12","o":2372,"h":2431,"l":2326,"c":2344,"s":"g"},
{"d":"2024-04-15","o":2344,"h":2386,"l":2325,"c":2383,"s":"g"},{"d":"2024-04-16","o":2383,"h":2396,"l":2365,"c":2383,"s":"g"},{"d":"2024-04-17","o":2383,"h":2392,"l":2356,"c":2361,"s":"g"},{"d":"2024-04-18","o":2361,"h":2385,"l":2357,"c":2379,"s":"g"},{"d":"2024-04-19","o":2379,"h":2418,"l":2370,"c":2391,"s":"g"},
{"d":"2024-04-22","o":2391,"h":2391,"l":2320,"c":2327,"s":"g"},{"d":"2024-04-23","o":2327,"h":2334,"l":2292,"c":2322,"s":"g"},{"d":"2024-04-24","o":2322,"h":2331,"l":2309,"c":2316,"s":"g"},{"d":"2024-04-25","o":2316,"h":2338,"l":2306,"c":2332,"s":"g"},{"d":"2024-04-26","o":2332,"h":2353,"l":2331,"c":2337,"s":"g"},
{"d":"2024-04-29","o":2337,"h":2345,"l":2321,"c":2336,"s":"g"},{"d":"2024-04-30","o":2336,"h":2352,"l":2285,"c":2286,"s":"g"},{"d":"2024-05-01","o":2286,"h":2326,"l":2285,"c":2320,"s":"g"},{"d":"2024-05-02","o":2320,"h":2325,"l":2298,"c":2304,"s":"g"},{"d":"2024-05-03","o":2304,"h":2318,"l":2277,"c":2301,"s":"g"},
{"d":"2024-05-06","o":2301,"h":2331,"l":2291,"c":2323,"s":"g"},{"d":"2024-05-07","o":2323,"h":2327,"l":2310,"c":2314,"s":"g"},{"d":"2024-05-08","o":2314,"h":2323,"l":2303,"c":2309,"s":"g"},{"d":"2024-05-09","o":2309,"h":2351,"l":2306,"c":2346,"s":"g"},{"d":"2024-05-10","o":2346,"h":2378,"l":2345,"c":2360,"s":"g"},
{"d":"2024-05-13","o":2360,"h":2362,"l":2334,"c":2336,"s":"g"},{"d":"2024-05-14","o":2336,"h":2359,"l":2335,"c":2358,"s":"g"},{"d":"2024-05-15","o":2358,"h":2389,"l":2355,"c":2385,"s":"g"},{"d":"2024-05-16","o":2385,"h":2401,"l":2372,"c":2376,"s":"g"},{"d":"2024-05-17","o":2376,"h":2422,"l":2372,"c":2415,"s":"g"},
{"d":"2024-05-20","o":2415,"h":2450,"l":2407,"c":2425,"s":"g"},{"d":"2024-05-21","o":2425,"h":2426,"l":2406,"c":2420,"s":"g"},{"d":"2024-05-22","o":2420,"h":2425,"l":2373,"c":2379,"s":"g"},{"d":"2024-05-23","o":2379,"h":2385,"l":2326,"c":2329,"s":"g"},{"d":"2024-05-24","o":2329,"h":2350,"l":2325,"c":2334,"s":"g"},
{"d":"2024-05-27","o":2334,"h":2353,"l":2332,"c":2350,"s":"g"},{"d":"2024-05-28","o":2350,"h":2365,"l":2334,"c":2361,"s":"g"},{"d":"2024-05-29","o":2361,"h":2364,"l":2335,"c":2337,"s":"g"},{"d":"2024-05-30","o":2337,"h":2352,"l":2331,"c":2343,"s":"g"},{"d":"2024-05-31","o":2343,"h":2360,"l":2314,"c":2326,"s":"g"},
{"d":"2024-06-03","o":2326,"h":2355,"l":2321,"c":2350,"s":"g"},{"d":"2024-06-04","o":2350,"h":2354,"l":2314,"c":2326,"s":"g"},{"d":"2024-06-05","o":2326,"h":2358,"l":2324,"c":2355,"s":"g"},{"d":"2024-06-06","o":2355,"h":2388,"l":2353,"c":2375,"s":"g"},{"d":"2024-06-07","o":2375,"h":2387,"l":2287,"c":2293,"s":"r"},
{"d":"2024-06-10","o":2293,"h":2314,"l":2287,"c":2310,"s":"r"},{"d":"2024-06-11","o":2310,"h":2318,"l":2298,"c":2316,"s":"r"},{"d":"2024-06-12","o":2316,"h":2342,"l":2304,"c":2323,"s":"r"},{"d":"2024-06-13","o":2323,"h":2324,"l":2301,"c":2303,"s":"r"},{"d":"2024-06-14","o":2303.22,"h":2336.48,"l":2301.41,"c":2332.57,"s":"r"}]},
 "layer": [
  {"transform": [{"filter": "datum.c >= datum.o"}],
   "mark": {"type": "rule", "strokeWidth": 1},
   "encoding": {"x": {"field": "d", "type": "ordinal", "axis": null},
    "y": {"field": "l", "type": "quantitative", "axis": null}, "y2": {"field": "h"},
    "color": {"condition": {"test": "datum.s == 'r'", "value": "#ff7070"}, "value": "#6cc86c"}}},
  {"transform": [{"filter": "datum.c < datum.o"}],
   "mark": {"type": "rule", "strokeWidth": 1},
   "encoding": {"x": {"field": "d", "type": "ordinal", "axis": null},
    "y": {"field": "l", "type": "quantitative", "axis": null}, "y2": {"field": "h"},
    "color": {"condition": {"test": "datum.s == 'r'", "value": "#ff1a1a"}, "value": "#179a17"}}},
  {"transform": [{"filter": "datum.c >= datum.o"}],
   "mark": {"type": "bar", "width": {"band": 0.66}, "fill": "white", "strokeWidth": 1},
   "encoding": {"x": {"field": "d", "type": "ordinal", "axis": null},
    "y": {"field": "o", "type": "quantitative", "axis": null}, "y2": {"field": "c"},
    "stroke": {"condition": {"test": "datum.s == 'r'", "value": "#ff7070"}, "value": "#6cc86c"}}},
  {"transform": [{"filter": "datum.c < datum.o"}],
   "mark": {"type": "bar", "width": {"band": 0.66}, "strokeWidth": 1},
   "encoding": {"x": {"field": "d", "type": "ordinal", "axis": null},
    "y": {"field": "o", "type": "quantitative", "axis": null}, "y2": {"field": "c"},
    "fill": {"condition": {"test": "datum.s == 'r'", "value": "#ff1a1a"}, "value": "#179a17"},
    "stroke": {"condition": {"test": "datum.s == 'r'", "value": "#ff1a1a"}, "value": "#179a17"}}}
 ]},
{"data": {"values": [{"d":"2024-03-18","p":2513.7,"t":"GOLD (2,303.22, 2,336.48, 2,301.41, 2,332.57, +28.7800), Zaelias_Bands (2,502.85, 1,997.94, 2,250.40)"}]},
 "mark": {"type": "text", "fontSize": 11, "color": "#333", "font": "Liberation Sans"},
 "encoding": {"x": {"field": "d", "type": "ordinal", "axis": null}, "y": {"field": "p", "type": "quantitative", "axis": null}, "text": {"field": "t"}}},
{"data": {"values": [{"d":"2024-01-12","p":2421,"t":"GOLD DAILY"},{"d":"2024-01-05","p":2353,"t":"SHORT STOP 2387"}]},
 "mark": {"type": "text", "align": "left", "baseline": "middle", "fontSize": 26, "fontStyle": "italic", "font": "Liberation Sans", "color": "#2b2bff"},
 "encoding": {"x": {"field": "d", "type": "ordinal", "axis": null}, "y": {"field": "p", "type": "quantitative", "axis": null}, "text": {"field": "t"}}},
{"data": {"values": [{"d":"2024-06-28","p":2297,"t":"2301"},{"d":"2024-06-17","p":2243.6,"t":"2260"}]},
 "mark": {"type": "text", "align": "left", "baseline": "middle", "fontSize": 27, "fontStyle": "italic", "font": "Liberation Sans", "color": "#8c1c1c"},
 "encoding": {"x": {"field": "d", "type": "ordinal", "axis": null}, "y": {"field": "p", "type": "quantitative", "axis": null}, "text": {"field": "t"}}},
{"data": {"values": [{"d":"2024-06-06","p":2479.5,"t":"2450"},{"d":"2024-06-11","p":2427,"t":"2373-2390"},{"d":"2024-06-21","p":2341.7,"t":"2339"},{"d":"2024-07-11","p":2254.2,"t":"2277"},{"d":"2024-03-13","p":2044.3,"t":"2051"},{"d":"2024-05-29","p":2547,"t":"2475"}]},
 "mark": {"type": "text", "align": "left", "baseline": "middle", "fontSize": 18, "fontStyle": "italic", "font": "Liberation Sans", "color": "#2b2bff", "clip": true},
 "encoding": {"x": {"field": "d", "type": "ordinal", "axis": null}, "y": {"field": "p", "type": "quantitative", "axis": null}, "text": {"field": "t"}}}
]
}
]
}
